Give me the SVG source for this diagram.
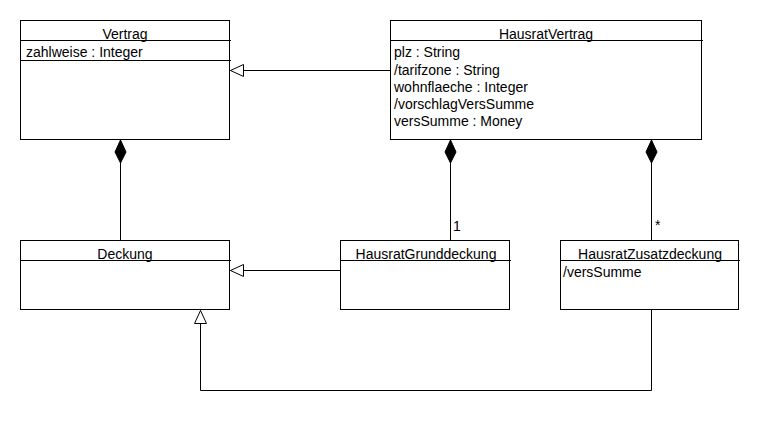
<svg xmlns="http://www.w3.org/2000/svg" width="760" height="430" viewBox="0 0 760 430">
<style>
.box{fill:#fff;stroke:#000;stroke-width:1}
.ln{fill:none;stroke:#000;stroke-width:1}
text{font-family:"Liberation Sans",Arial,sans-serif;font-size:14px;fill:#000}
.t{text-anchor:middle}
</style>
<defs>
<marker id="gen" markerWidth="16" markerHeight="14" refX="14" refY="7" orient="auto" markerUnits="userSpaceOnUse">
<path d="M1,1 L14,7 L1,13 Z" fill="#fff" stroke="#000" stroke-width="1"/>
</marker>
<marker id="comp" markerWidth="26" markerHeight="14" refX="24" refY="7" orient="auto" markerUnits="userSpaceOnUse">
<path d="M1,7 L12,1.5 L24,7 L12,12.5 Z" fill="#000" stroke="#000" stroke-width="1"/>
</marker>
</defs>
<rect width="760" height="430" fill="#fff"/>
<g id="connectors">
<path class="ln" d="M390.5,70.5 H230.5" marker-end="url(#gen)"/>
<path class="ln" d="M340.5,270.5 H230.5" marker-end="url(#gen)"/>
<path class="ln" d="M651.5,309.5 V390.5 H200.5 V310.5" marker-end="url(#gen)"/>
<path class="ln" d="M120.5,240 V140" marker-end="url(#comp)"/>
<path class="ln" d="M450.5,240 V140" marker-end="url(#comp)"/>
<path class="ln" d="M651.5,240 V140" marker-end="url(#comp)"/>
<text x="453" y="231">1</text>
<text x="655" y="230">*</text>
</g>
<g id="Vertrag">
<rect class="box" x="20.5" y="20.5" width="209" height="119"/>
<path class="ln" d="M20.5,40.5 H231 M20.5,60.5 H231"/>
<text class="t" x="125" y="39">Vertrag</text>
<text x="26" y="57">zahlweise : Integer</text>
</g>
<g id="HausratVertrag">
<rect class="box" x="390.5" y="20.5" width="311" height="119"/>
<path class="ln" d="M390.5,40.5 H703"/>
<text class="t" x="546" y="39">HausratVertrag</text>
<text x="394" y="57">plz : String</text>
<text x="394" y="74.5">/tarifzone : String</text>
<text x="394" y="91.5">wohnflaeche : Integer</text>
<text x="394" y="109">/vorschlagVersSumme</text>
<text x="394" y="126">versSumme : Money</text>
</g>
<g id="Deckung">
<rect class="box" x="20.5" y="240.5" width="209" height="69"/>
<path class="ln" d="M20.5,260.5 H231"/>
<text class="t" x="125" y="259">Deckung</text>
</g>
<g id="HausratGrunddeckung">
<rect class="box" x="340.5" y="240.5" width="169" height="69"/>
<path class="ln" d="M340.5,260.5 H511"/>
<text class="t" x="426" y="259">HausratGrunddeckung</text>
</g>
<g id="HausratZusatzdeckung">
<rect class="box" x="560.5" y="240.5" width="178" height="69"/>
<path class="ln" d="M560.5,260.5 H740"/>
<text class="t" x="650" y="259">HausratZusatzdeckung</text>
<text x="563" y="277">/versSumme</text>
</g>
</svg>
